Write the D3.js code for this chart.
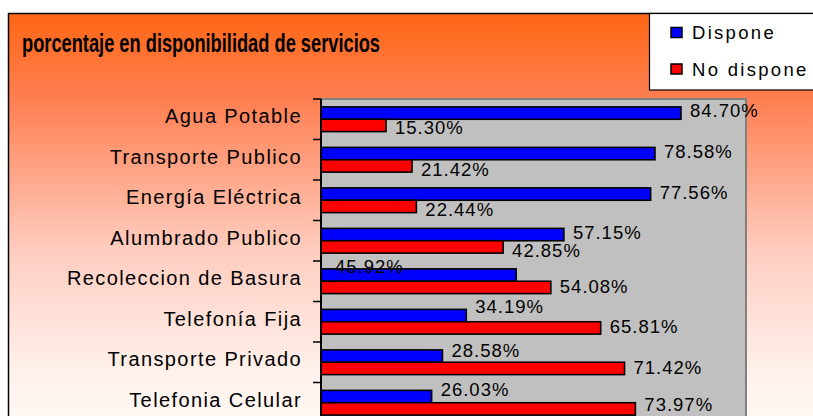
<!DOCTYPE html>
<html>
<head>
<meta charset="utf-8">
<script src="https://cdn.jsdelivr.net/npm/d3@7"></script>
<style>
  body { margin: 0; background: #fff; }
  svg { display: block; font-family: "Liberation Sans", Arial, sans-serif; }
</style>
</head>
<body>
<div id="chart"></div>
<script>
let categories = [
  'Agua Potable',
  'Transporte Publico',
  'Energía Eléctrica',
  'Alumbrado Publico',
  'Recoleccion de Basura',
  'Telefonía Fija',
  'Transporte Privado',
  'Telefonia Celular'
]
let dispone = [84.70, 78.58, 77.56, 57.15, 45.92, 34.19, 28.58, 26.03]
let noDispone = [15.30, 21.42, 22.44, 42.85, 54.08, 65.81, 71.42, 73.97]
let seriesNames = ['Dispone', 'No dispone']
let seriesColors = ['#0000ff', '#ff0000']

let width = 813
let height = 416
let margin = { top: 99, left: 321, right: 67, bottom: -7 }
let plotW = width - margin.left - margin.right
let plotH = height - margin.top - margin.bottom

let svg = d3
  .select('#chart')
  .append('svg')
  .attr('width', width)
  .attr('height', height)

// background gradient (orange to almost white)
let grad = svg.append('defs').append('linearGradient')
  .attr('id', 'bg')
  .attr('x1', 0).attr('y1', 0).attr('x2', 0).attr('y2', 1)
grad.selectAll('stop')
  .data([
    [0, '#ff6614'],
    [0.2, '#ff7f52'],
    [0.55, '#ffcdbf'],
    [0.85, '#fff3ee'],
    [1, '#fffaf7']
  ])
  .enter()
  .append('stop')
  .attr('offset', d => d[0])
  .attr('stop-color', d => d[1])

svg.append('rect')
  .attr('x', 8.5)
  .attr('y', 13.5)
  .attr('width', 820)
  .attr('height', 430)
  .attr('fill', 'url(#bg)')
  .attr('stroke', '#000')
  .attr('stroke-width', 1.5)

// title
svg.append('text')
  .attr('x', 22)
  .attr('y', 52)
  .attr('font-size', 25)
  .attr('font-weight', 'bold')
  .attr('textLength', 358)
  .attr('lengthAdjust', 'spacingAndGlyphs')
  .attr('fill', '#000')
  .text('porcentaje en disponibilidad de servicios')

// legend
let legend = svg.append('g')
legend.append('rect')
  .attr('x', 649.5)
  .attr('y', 13.5)
  .attr('width', 200)
  .attr('height', 76.5)
  .attr('fill', '#fff')
  .attr('stroke', '#000')
  .attr('stroke-width', 1.2)

let legendItems = legend.selectAll('.item')
  .data(seriesNames)
  .enter()
  .append('g')
  .attr('class', 'item')
  .attr('transform', (d, i) => 'translate(671,' + (27.5 + i * 36.5) + ')')

legendItems.append('rect')
  .attr('width', 11)
  .attr('height', 10)
  .attr('fill', (d, i) => seriesColors[i])
  .attr('stroke', '#000')
  .attr('stroke-width', 1.5)

legendItems.append('text')
  .attr('x', 21)
  .attr('y', 5)
  .attr('dy', '0.36em')
  .attr('font-size', 18.5)
  .attr('letter-spacing', 2.3)
  .text(d => d)

// plot area
let g = svg.append('g')
  .attr('transform', 'translate(' + margin.left + ',' + margin.top + ')')

g.append('rect')
  .attr('width', plotW)
  .attr('height', plotH)
  .attr('fill', '#c0c0c0')
  .attr('stroke', '#808080')
  .attr('stroke-width', 2)

let x = d3.scaleLinear().domain([0, 100]).range([0, plotW])

let y0 = d3.scaleBand()
  .domain(categories)
  .range([0, plotH])
  .paddingInner(0.39)
  .paddingOuter(0.195)

let y1 = d3.scaleBand()
  .domain(seriesNames)
  .range([0, y0.bandwidth()])

let rows = categories.map((c, i) => ({
  name: c,
  values: [
    { series: seriesNames[0], value: dispone[i] },
    { series: seriesNames[1], value: noDispone[i] }
  ]
}))

// labels that were dragged by hand in the original
let labelNudge = {
  'Agua Potable': [-3, 1.5],
  'Transporte Publico': [-2, 3.5],
  'Energía Eléctrica': [-2, 2.5],
  'Alumbrado Publico': [-2.5, 3.5],
  'Recoleccion de Basura': [-8.7, -1],
  'Telefonía Fija': [-9, -1.3],
  'Transporte Privado': [-6, -0.7],
  'Telefonia Celular': [-7.3, -4.5]
}

let groups = g.selectAll('.row')
  .data(rows)
  .enter()
  .append('g')
  .attr('class', 'row')
  .attr('transform', d => 'translate(0,' + y0(d.name) + ')')

groups.selectAll('rect')
  .data(d => d.values)
  .enter()
  .append('rect')
  .attr('x', 0)
  .attr('y', d => y1(d.series))
  .attr('width', d => x(d.value))
  .attr('height', y1.bandwidth())
  .attr('fill', (d, i) => seriesColors[i])
  .attr('stroke', '#000')
  .attr('stroke-width', 1.6)

groups.each(function(row) {
  d3.select(this).selectAll('.lbl')
    .data(row.values)
    .enter()
    .append('text')
    .attr('class', 'lbl')
    .attr('x', d => {
      // the 45.92% label sits near the axis in the original
      if (row.name === 'Recoleccion de Basura' && d.series === 'Dispone') return 14
      return x(d.value) + 9
    })
    .attr('y', (d, i) => y1(d.series) + y1.bandwidth() / 2 + labelNudge[row.name][i])
    .attr('dy', '0.36em')
    .attr('font-size', 18.5)
    .attr('letter-spacing', 1)
    .attr('fill', '#000')
    .text(d => d.value.toFixed(2) + '%')
})

// category axis
let axis = g.append('g')
axis.append('line')
  .attr('x1', 0).attr('x2', 0)
  .attr('y1', 0).attr('y2', plotH)
  .attr('stroke', '#000')
  .attr('stroke-width', 2)

axis.selectAll('.tick')
  .data(categories)
  .enter()
  .append('line')
  .attr('class', 'tick')
  .attr('x1', -8).attr('x2', 0)
  .attr('y1', d => y0(d) - y0.step() * 0.195)
  .attr('y2', d => y0(d) - y0.step() * 0.195)
  .attr('stroke', '#000')
  .attr('stroke-width', 1.5)

axis.selectAll('.cat')
  .data(categories)
  .enter()
  .append('text')
  .attr('class', 'cat')
  .attr('x', -19)
  .attr('y', d => y0(d) + y0.bandwidth() / 2 + 4)
  .attr('text-anchor', 'end')
  .attr('font-size', 20)
  .attr('letter-spacing', 1.4)
  .attr('fill', '#000')
  .text(d => d)
</script>
</body>
</html>
